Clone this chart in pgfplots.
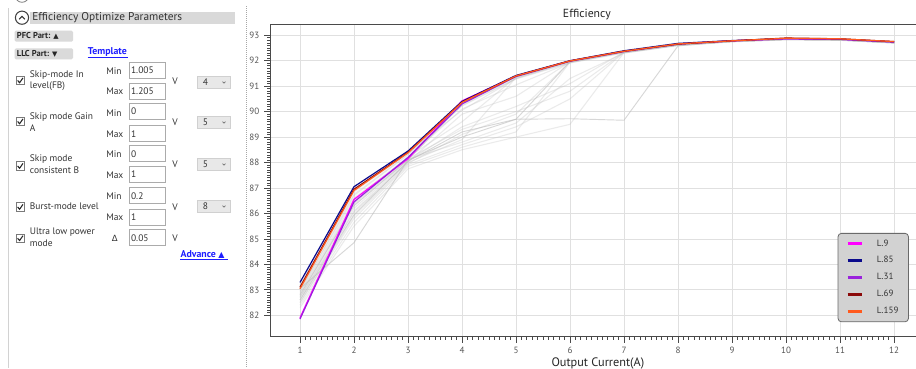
\documentclass[border=0pt]{standalone}
\usepackage{pgfplots}
\usepackage{pgfplotstable}
\pgfplotsset{compat=1.18}
\usepackage{fontspec}
\setmainfont{PT Sans}
\newfontfamily\dejavu{DejaVu Sans}

\definecolor{uitext}{HTML}{333333}
\definecolor{hdr}{HTML}{D9D9D9}
\definecolor{btn}{HTML}{DADADA}
\definecolor{ddbg}{HTML}{E8E8E8}
\definecolor{ddbd}{HTML}{D0D0D0}
\definecolor{tbbd}{HTML}{ABABAB}
\definecolor{cbbd}{HTML}{7A7A7A}
\definecolor{link}{HTML}{1E1EFF}
\definecolor{gridc}{HTML}{E0E0E0}
\definecolor{axc}{HTML}{4A4A4A}
\definecolor{tickc}{HTML}{555555}
\definecolor{lgbg}{HTML}{D2D2D2}
\definecolor{lgbd}{HTML}{6A6A6A}
\definecolor{cLnine}{HTML}{FF00FF}
\definecolor{cLeightyfive}{HTML}{0A0A8C}
\definecolor{cLthirtyone}{HTML}{9A22DC}
\definecolor{cLsixtynine}{HTML}{8B0A0A}
\definecolor{cLonefiftynine}{HTML}{FF5A1E}
\definecolor{gl}{HTML}{BDBDBD}

\pgfplotstableread{
x  g1    g2    g3    g4    g5    g6    g7    g8    g9    g10   g11   g12   g13   g14   g15   g16   g17   g18
1  83.15 82.95 83.05 82.60 82.80 82.70 82.50 82.40 82.90 82.60 82.30 83.20 82.70 82.50 83.00 82.85 83.10 82.75
2  86.85 86.70 84.85 85.95 86.30 86.05 85.80 85.65 86.50 86.10 85.50 86.95 86.20 85.90 86.60 86.40 86.75 86.35
3  88.38 88.30 88.10 88.05 88.10 88.00 87.92 87.85 88.22 88.02 87.75 88.40 88.06 87.96 88.20 88.15 88.33 88.12
4  90.33 90.22 90.30 89.20 89.00 88.90 88.70 88.60 89.60 89.90 88.50 90.05 89.40 89.10 90.10 89.30 90.25 88.80
5  91.37 91.28 91.36 89.70 89.70 91.34 89.40 89.20 91.35 90.60 89.00 91.30 90.20 89.90 91.05 90.00 91.31 89.55
6  91.97 91.91 91.97 89.72 91.96 91.96 90.50 91.94 91.97 91.95 89.50 91.97 91.10 91.95 91.92 90.80 91.93 91.30
7  92.35 92.30 92.35 89.66 92.34 92.34 92.33 92.34 92.35 92.34 92.32 92.35 92.34 92.34 92.34 92.33 92.32 92.30
8  92.63 92.59 92.63 92.58 92.62 92.62 92.62 92.62 92.63 92.62 92.61 92.63 92.62 92.62 92.62 92.62 92.60 92.61
9  92.77 92.74 92.77 92.76 92.76 92.76 92.76 92.76 92.77 92.76 92.75 92.77 92.76 92.76 92.76 92.76 92.75 92.75
10 92.85 92.82 92.85 92.84 92.84 92.84 92.84 92.84 92.85 92.84 92.83 92.85 92.84 92.84 92.84 92.84 92.83 92.83
11 92.83 92.80 92.83 92.82 92.82 92.82 92.82 92.82 92.83 92.82 92.81 92.83 92.82 92.82 92.82 92.82 92.81 92.81
12 92.72 92.69 92.72 92.71 92.71 92.71 92.71 92.71 92.72 92.71 92.70 92.72 92.71 92.71 92.71 92.71 92.70 92.70
}\graydata

\tikzset{ui/.style={font=\fontsize{7.1}{8}\selectfont, text=uitext, inner sep=0pt}}
\newcommand{\cb}[1]{\draw[cbbd,fill=white,line width=0.5pt] (16,{#1-4.2}) rectangle (24.4,{#1+4.2});
  \draw[black!85,line width=0.8pt] (17.6,{#1}) -- (19.6,{#1+2.2}) -- (23,{#1-2.6});}
\newcommand{\tb}[2]{\draw[tbbd,fill=white,line width=0.5pt] (129,{#1-8}) rectangle (165.7,{#1+8});
  \node[ui,anchor=west] at (130.8,{#1}) {#2};}
\newcommand{\dd}[2]{\draw[ddbd,fill=ddbg,line width=0.4pt] (197.7,{#1-6}) rectangle (230,{#1+6});
  \node[ui,anchor=west] at (202.5,{#1-0.3}) {#2};
  \draw[black!55,line width=0.5pt] (222.5,{#1-0.8}) -- (224,{#1+0.7}) -- (225.5,{#1-0.8});}

\begin{document}
\begin{tikzpicture}
\useasboundingbox (0,0) rectangle (687pt,-276pt);
\fill[white] (0,0) rectangle (687pt,-276pt);
\begin{scope}[x=0.75pt,y=-0.75pt]
  % panel frame
  \draw[gray!35,line width=0.5pt] (8.3,8) -- (8.3,368);
  \draw[gray!70,line width=0.6pt,dash pattern=on 0.75pt off 0.75pt] (246.7,6) -- (246.7,368);
  \draw[black!50,line width=0.6pt] (22,-4.5) circle (6.8);
  % header
  \fill[hdr] (30,11.5) rectangle (235,24);
  \draw[black!75, line width=0.8pt] (22,17.7) circle (6.6);
  \draw[black!80, line width=0.8pt] (19.2,19.3) -- (22,16.3) -- (24.8,19.3);
  \node[anchor=west, font=\fontsize{8.5}{9}\selectfont, text=black!80, inner sep=0pt] at (32,17.7) {Efficiency Optimize Parameters};
  % buttons
  \fill[btn, rounded corners=1pt] (14.7,30.7) rectangle (73,41.7);
  \node[anchor=west,font=\bfseries\fontsize{6.4}{7}\selectfont, text=black!85, inner sep=0pt] at (16.7,36.2) {PFC Part: {\dejavu\fontsize{5.2}{6}\selectfont▲}};
  \fill[btn, rounded corners=1pt] (14.7,48.3) rectangle (73,59.3);
  \node[anchor=west,font=\bfseries\fontsize{6.4}{7}\selectfont, text=black!85, inner sep=0pt] at (16.7,53.8) {LLC Part: {\dejavu\fontsize{5.2}{6}\selectfont▼}};
  \node[anchor=west,font=\bfseries\fontsize{7.4}{8}\selectfont, text=link, inner sep=0pt] at (87.7,51.8) {Template};
  \draw[link,line width=0.5pt] (87.7,57.3) -- (127.7,57.3);
  % row 1
  \cb{80.5}
  \node[ui,anchor=west] at (29.7,75.3) {Skip-mode In};
  \node[ui,anchor=west] at (29.7,86.3) {level(FB)};
  \node[ui,anchor=west] at (106,70.7) {Min};
  \node[ui,anchor=west] at (106,91.2) {Max};
  \tb{70.2}{1.005}
  \tb{91}{1.205}
  \node[ui,anchor=west] at (172,81.7) {V};
  \dd{82.5}{4}
  % row 2
  \cb{121.5}
  \node[ui,anchor=west] at (29.7,117.3) {Skip mode Gain};
  \node[ui,anchor=west] at (29.7,128.3) {A};
  \node[ui,anchor=west] at (106,112.7) {Min};
  \node[ui,anchor=west] at (106,134) {Max};
  \tb{111.3}{0}
  \tb{133.7}{1}
  \node[ui,anchor=west] at (172,122.3) {V};
  \dd{122.5}{5}
  % row 3
  \cb{166}
  \node[ui,anchor=west] at (29.7,159) {Skip mode};
  \node[ui,anchor=west] at (29.7,170.3) {consistent B};
  \node[ui,anchor=west] at (106,154.3) {Min};
  \node[ui,anchor=west] at (106,175) {Max};
  \tb{153.7}{0}
  \tb{174.5}{1}
  \node[ui,anchor=west] at (172,164.3) {V};
  \dd{164.5}{5}
  % row 4
  \cb{207}
  \node[ui,anchor=west] at (29.7,206.7) {Burst-mode level};
  \node[ui,anchor=west] at (106,196) {Min};
  \node[ui,anchor=west] at (106,217.3) {Max};
  \tb{195.7}{0.2}
  \tb{217.2}{1}
  \node[ui,anchor=west] at (172,207) {V};
  \dd{206.5}{8}
  % row 5
  \cb{238.3}
  \node[ui,anchor=west] at (29.7,232) {Ultra low power};
  \node[ui,anchor=west] at (29.7,243.3) {mode};
  \node[ui,anchor=west] at (111.5,238.3) {\dejavu\fontsize{6.4}{7}\selectfont Δ};
  \tb{237.8}{0.05}
  \node[ui,anchor=west] at (172,238.3) {V};
  \node[anchor=west,font=\bfseries\fontsize{7.4}{8}\selectfont, text=link, inner sep=0pt] at (180.3,254.3) {Advance {\dejavu\fontsize{6}{6}\selectfont▲}};
  \draw[link,line width=0.5pt] (180.3,259.8) -- (227.7,259.8);
\end{scope}

\begin{axis}[
  at={(202.5pt,-252.5pt)}, anchor=south west,
  scale only axis, width=486pt, height=234.3pt,
  xmin=0.445, xmax=12.444, ymin=81.16, ymax=93.43,
  xtick pos=bottom, ytick pos=left,
  axis line style={axc, line width=0.7pt},
  xtick={1,...,12}, ytick={82,...,93},
  minor x tick num=9, minor y tick num=9,
  xmajorticks=true, ymajorticks=true, xminorticks=true, yminorticks=true,
  tick align=outside, major tick length=4.5pt, minor tick length=2.2pt,
  major tick style={draw=axc, line width=0.6pt},
  minor tick style={draw=axc, line width=0.5pt},
  grid=major, major grid style={gridc, line width=0.6pt},
  ticklabel style={font=\fontsize{6.8}{8}\selectfont, text=tickc},
  /pgf/number format/assume math mode=true,
  every axis title shift=0pt,
  title={Efficiency},
  title style={font=\fontsize{8.8}{10}\selectfont, text=black!85, at={(0.489,1.031)}, anchor=center, inner sep=0pt},
  xlabel={Output Current(A)},
  xlabel style={font=\fontsize{9.2}{10}\selectfont, text=black!85, at={(0.506,-0.085)}, anchor=center, inner sep=0pt},
  legend style={at={(0.876,0.332)}, anchor=north west, fill=lgbg, draw=lgbd, line width=0.6pt,
    rounded corners=2.5pt, font=\fontsize{6.8}{8}\selectfont, text=uitext,
    inner xsep=6pt, inner ysep=3.2pt, row sep=3.3pt,
    nodes={inner sep=1.5pt}},
  legend cell align=left,
  legend image code/.code={\draw[line width=2.2pt] (0pt,0pt) -- (10.5pt,0pt);},
  /tikz/every odd column/.append style={column sep=9pt},
]
\pgfplotsinvokeforeach{1,2,6,7,8,9,10,11,12,13,14,15,16,17,18}{
  \addplot[gl, line width=0.8pt, opacity=0.3, forget plot] table[x=x,y=g#1] {\graydata};
}
\pgfplotsinvokeforeach{3,4,5}{
  \addplot[gl, line width=0.7pt, opacity=0.6, forget plot] table[x=x,y=g#1] {\graydata};
}
\addplot[cLnine, line width=0.9pt] coordinates {(1,81.90) (2,86.55) (3,88.15) (4,90.42) (5,91.40) (6,91.99) (7,92.37) (8,92.66) (9,92.78) (10,92.86) (11,92.84) (12,92.74)};
\addlegendentry{L.9}
\addplot[cLeightyfive, line width=0.9pt] coordinates {(1,83.29) (2,87.05) (3,88.45) (4,90.40) (5,91.42) (6,92.00) (7,92.39) (8,92.68) (9,92.79) (10,92.87) (11,92.85) (12,92.74)};
\addlegendentry{L.85}
\addplot[cLthirtyone, line width=0.9pt] coordinates {(1,81.85) (2,86.45) (3,88.20) (4,90.30) (5,91.38) (6,91.98) (7,92.36) (8,92.65) (9,92.78) (10,92.86) (11,92.84) (12,92.73)};
\addlegendentry{L.31}
\addplot[cLsixtynine, line width=0.9pt] coordinates {(1,83.10) (2,86.95) (3,88.40) (4,90.37) (5,91.40) (6,91.99) (7,92.37) (8,92.65) (9,92.78) (10,92.89) (11,92.86) (12,92.75)};
\addlegendentry{L.69}
\addplot[cLonefiftynine, line width=0.9pt] coordinates {(1,83.04) (2,86.90) (3,88.38) (4,90.36) (5,91.40) (6,91.99) (7,92.37) (8,92.66) (9,92.78) (10,92.88) (11,92.86) (12,92.75)};
\addlegendentry{L.159}
\end{axis}
\end{tikzpicture}
\end{document}
